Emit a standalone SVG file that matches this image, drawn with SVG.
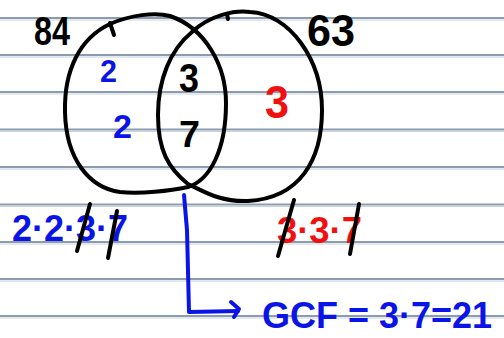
<svg xmlns="http://www.w3.org/2000/svg" width="504" height="338" viewBox="0 0 504 338">
<style>
.rule{stroke:#8c9cb0;stroke-width:2;}
.rule2{stroke:#c9d3de;stroke-width:1;}
.ink{fill:none;stroke:#000;stroke-width:4;stroke-linecap:round;stroke-linejoin:round;}
.blueink{fill:none;stroke:#0a14e6;stroke-width:4;stroke-linecap:round;stroke-linejoin:round;}
.t{font-family:"Liberation Sans",sans-serif;font-weight:bold;}
.k{fill:#000;}
.b{fill:#0a14e6;}
.r{fill:#f01010;}
</style>
<rect width="504" height="338" fill="#fff"/>
<g id="paper">
<line class="rule" x1="0" y1="18" x2="504" y2="18"/><line class="rule2" x1="0" y1="20" x2="504" y2="20"/>
<line class="rule" x1="0" y1="55" x2="504" y2="55"/><line class="rule2" x1="0" y1="57" x2="504" y2="57"/>
<line class="rule" x1="0" y1="92" x2="504" y2="92"/><line class="rule2" x1="0" y1="94" x2="504" y2="94"/>
<line class="rule" x1="0" y1="129.5" x2="504" y2="129.5"/><line class="rule2" x1="0" y1="131.5" x2="504" y2="131.5"/>
<line class="rule" x1="0" y1="167" x2="504" y2="167"/><line class="rule2" x1="0" y1="169" x2="504" y2="169"/>
<line class="rule" x1="0" y1="204.5" x2="504" y2="204.5"/><line class="rule2" x1="0" y1="206.5" x2="504" y2="206.5"/>
<line class="rule" x1="0" y1="242" x2="504" y2="242"/><line class="rule2" x1="0" y1="244" x2="504" y2="244"/>
<line class="rule" x1="0" y1="279" x2="504" y2="279"/><line class="rule2" x1="0" y1="281" x2="504" y2="281"/>
<line class="rule" x1="0" y1="316" x2="504" y2="316"/><line class="rule2" x1="0" y1="318" x2="504" y2="318"/>
</g>
<g id="circle84">
<path class="ink" d="M110,24 C130,15 155,12 170,16 C205,28 226,65 226,103 C226,150 210,180 188,187 C170,191 140,194 120,192 C90,188 66,160 65,112 C64,70 80,38 110,24 Z"/>
<path class="ink" d="M110,23 L114,35"/>
<text class="t k" x="34" y="45" font-size="40" textLength="36" lengthAdjust="spacingAndGlyphs">84</text>
</g>
<g id="circle63">
<path class="ink" d="M192,32 C210,15 235,10 250,12 C290,14 322,60 322,110 C322,160 300,198 248,201 C220,202 205,192 188,184 C168,168 158,150 158,115 C158,80 170,50 192,32 Z"/>
<path class="ink" d="M227,14 L228,19"/>
<text class="t k" x="307" y="46" font-size="44" textLength="48" lengthAdjust="spacingAndGlyphs">63</text>
</g>
<g id="regions">
<text class="t b" x="100" y="82" font-size="32" textLength="17" lengthAdjust="spacingAndGlyphs">2</text>
<text class="t b" x="113" y="138" font-size="34" textLength="19" lengthAdjust="spacingAndGlyphs">2</text>
<text class="t k" x="179" y="92" font-size="40" textLength="20" lengthAdjust="spacingAndGlyphs">3</text>
<text class="t k" x="179" y="147" font-size="36" textLength="21" lengthAdjust="spacingAndGlyphs">7</text>
<text class="t r" x="265" y="118" font-size="46" textLength="24" lengthAdjust="spacingAndGlyphs">3</text>
</g>
<g id="factors84">
<text class="t b" x="12" y="241" font-size="36">2·2·3·7</text>
<path class="ink" d="M90,204 L77,251"/>
<path class="ink" d="M117,211 L108,258"/>
</g>
<g id="factors63">
<text class="t r" x="277" y="243" font-size="36" textLength="85" lengthAdjust="spacingAndGlyphs">3·3·7</text>
<path class="ink" d="M294,200 L278,256"/>
<path class="ink" d="M359,204 L350,254"/>
</g>
<g id="connectors">
<path class="blueink" d="M184,195 L187,230 L189,312 L238,311"/>
<path class="blueink" d="M231,302 L239,309 L234,317"/>
</g>
<g id="gcf">
<text class="t b" x="262" y="328" font-size="36">GCF = 3·7=21</text>
</g>
</svg>
